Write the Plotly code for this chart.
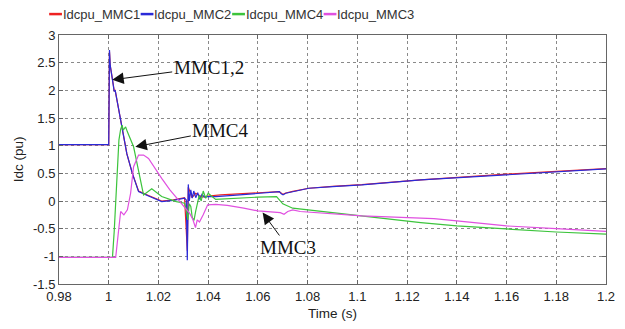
import plotly.graph_objects as go

# DC current transients of the four converter stations (per unit)
t_mmc1 = [0.98, 1.0, 1.0003, 1.0006, 1.0015, 1.0022, 1.0026, 1.0055, 1.0073, 1.0095, 1.012, 1.016,
          1.0213, 1.026, 1.0305, 1.0316, 1.032, 1.0335, 1.035, 1.0375, 1.04, 1.045, 1.05, 1.0595,
          1.0686, 1.0701, 1.0712, 1.074, 1.0805, 1.09, 1.1018, 1.1255, 1.14, 1.16, 1.18, 1.2]
i_mmc1 = [1.02, 1.02, 2.7, 2.45, 2.2, 1.99, 2.0, 1.25, 0.85, 0.5, 0.18, 0.1,
          0.0, 0.02, 0.06, -0.9, 0.25, 0.06, 0.14, 0.07, 0.09, 0.11, 0.12, 0.145,
          0.17, 0.12, 0.145, 0.175, 0.23, 0.265, 0.295, 0.38, 0.425, 0.485, 0.535, 0.585]

t_mmc2 = [0.98, 1.0, 1.0003, 1.0006, 1.0015, 1.0022, 1.0026, 1.0055, 1.0073, 1.0095, 1.012, 1.016,
          1.0213, 1.026, 1.0305, 1.0312, 1.0316, 1.032, 1.0324, 1.033, 1.0336, 1.0342, 1.035,
          1.0358, 1.0366, 1.0375, 1.0385, 1.0398, 1.043, 1.05, 1.0595, 1.0686, 1.0694, 1.0701,
          1.0712, 1.074, 1.0805, 1.09, 1.1018, 1.1255, 1.14, 1.16, 1.18, 1.2]
i_mmc2 = [1.02, 1.02, 2.73, 2.45, 2.19, 1.98, 2.0, 1.25, 0.85, 0.5, 0.17, 0.09,
          -0.01, 0.01, 0.05, 0.02, -1.07, 0.3, 0.0, 0.2, 0.05, 0.18, 0.06,
          0.15, 0.03, 0.12, 0.07, 0.08, 0.08, 0.1, 0.14, 0.168, 0.13, 0.11,
          0.14, 0.17, 0.23, 0.26, 0.29, 0.38, 0.42, 0.48, 0.53, 0.58]

t_mmc4 = [0.98, 1.0015, 1.0022, 1.0028, 1.0035, 1.0041, 1.0048, 1.0054, 1.0058, 1.0062, 1.0068,
          1.0075, 1.0085, 1.01, 1.0113, 1.0127, 1.014, 1.0173, 1.0213, 1.0272, 1.0305, 1.0312,
          1.0318, 1.0324, 1.033, 1.0336, 1.0343, 1.035, 1.0357, 1.0364, 1.0372, 1.038, 1.039,
          1.04, 1.043, 1.05, 1.06, 1.0675, 1.07, 1.074, 1.078, 1.0805, 1.09, 1.1018, 1.115,
          1.1255, 1.14, 1.16, 1.18, 1.2]
i_mmc4 = [-1.02, -1.02, -0.55, 0.0, 0.6, 1.1, 1.3, 1.37, 1.28, 1.3, 1.34,
          1.25, 1.15, 0.98, 0.7, 0.38, 0.11, 0.22, 0.08, -0.01, -0.04, -0.15,
          -0.34, -0.05, -0.1, -0.3, -0.35, -0.18, -0.05, 0.1, 0.0, 0.18, 0.05,
          0.14, 0.03, 0.05, 0.07, 0.08, -0.05, -0.13, -0.15, -0.16, -0.22, -0.28, -0.34,
          -0.39, -0.45, -0.51, -0.56, -0.6]

t_mmc3 = [0.98, 1.0028, 1.0038, 1.0048, 1.0061, 1.0068, 1.0075, 1.0088, 1.01, 1.012, 1.014,
          1.016, 1.0185, 1.0213, 1.0246, 1.0286, 1.031, 1.0325, 1.0338, 1.0349, 1.0356, 1.0365,
          1.038, 1.0398, 1.043, 1.0477, 1.0543, 1.06, 1.069, 1.0705, 1.072, 1.074, 1.077,
          1.086, 1.1018, 1.115, 1.1308, 1.14, 1.16, 1.18, 1.2]
i_mmc3 = [-1.02, -1.02, -0.6, -0.19, -0.25, -0.2, -0.16, 0.14, 0.62, 0.83, 0.83,
          0.77, 0.59, 0.41, 0.2, -0.01, -0.13, -0.22, -0.33, -0.48, -0.34, -0.38,
          -0.25, -0.07, -0.06, -0.08, -0.13, -0.18, -0.21, -0.24, -0.19, -0.16, -0.19,
          -0.22, -0.27, -0.29, -0.32, -0.36, -0.45, -0.5, -0.55]

series_names = ["Idcpu_MMC1", "Idcpu_MMC2", "Idcpu_MMC4", "Idcpu_MMC3"]
series_colors = ["#ee2222", "#2a2ad8", "#3cc43c", "#e050e0"]

x_ticks = [0.98, 1.0, 1.02, 1.04, 1.06, 1.08, 1.1, 1.12, 1.14, 1.16, 1.18, 1.2]
x_tick_text = ["0.98", "1", "1.02", "1.04", "1.06", "1.08", "1.1", "1.12", "1.14", "1.16", "1.18", "1.2"]
y_ticks = [-1.5, -1, -0.5, 0, 0.5, 1, 1.5, 2, 2.5, 3]
y_tick_text = ["-1.5", "-1", "-0.5", "0", "0.5", "1", "1.5", "2", "2.5", "3"]

# (label, arrow tip t, arrow tip value, label t, label value)
callouts = [
    ("MMC1,2", 1.0014, 2.19, 1.0402, 2.42),
    ("MMC4", 1.0107, 0.98, 1.0449, 1.28),
    ("MMC3", 1.0619, -0.21, 1.0722, -0.84),
]

fig = go.Figure()
for t, v, name, color in zip([t_mmc1, t_mmc2, t_mmc4, t_mmc3],
                             [i_mmc1, i_mmc2, i_mmc4, i_mmc3],
                             series_names, series_colors):
    fig.add_trace(go.Scatter(x=t, y=v, mode="lines", name=name,
                             line=dict(color=color, width=1.2), showlegend=False))

annotations = []
for label, tx, ty, lx, ly in callouts:
    annotations.append(dict(
        x=tx, y=ty, xref="x", yref="y", ax=lx, ay=ly, axref="x", ayref="y",
        text=label, showarrow=True, arrowhead=2, arrowsize=2.3, arrowwidth=1,
        arrowcolor="#111111", standoff=0, startstandoff=0,
        font=dict(family="Liberation Serif", size=19, color="#111111"),
    ))

# compact legend row above the plot area
shapes = []
item_w = 93 / 556
x0 = -10 / 556
leg_y = 1.084
for k, (name, color) in enumerate(zip(series_names, series_colors)):
    sx = x0 + k * item_w
    shapes.append(dict(type="line", xref="paper", yref="paper",
                       x0=sx, x1=sx + 13 / 556, y0=leg_y, y1=leg_y,
                       line=dict(color=color, width=2.5)))
    annotations.append(dict(x=sx + 13 / 556, y=leg_y, xref="paper", yref="paper",
                            text=name, showarrow=False, xanchor="left", yanchor="middle",
                            xshift=-1, font=dict(family="Liberation Sans", size=13, color="#333333")))

# y-axis title placed beside the tick labels
annotations.append(dict(x=-41 / 556, y=0.5, xref="paper", yref="paper", text="Idc (pu)",
                        textangle=-90, showarrow=False, xanchor="center", yanchor="middle",
                        font=dict(family="Liberation Sans", size=13.5, color="#222222")))

axis_common = dict(
    showline=True, linecolor="#666666", linewidth=1, mirror="ticks",
    showgrid=True, gridcolor="#8a8a8a", griddash="dot", gridwidth=1,
    ticks="inside", ticklen=4, tickcolor="#666666", zeroline=False,
    tickfont=dict(family="Liberation Sans", size=13, color="#222222"),
)

fig.update_layout(
    width=625, height=329,
    margin=dict(l=59, r=10, t=35, b=45),
    paper_bgcolor="white", plot_bgcolor="white",
    xaxis=dict(range=[0.98, 1.2], tickvals=x_ticks, ticktext=x_tick_text,
               title=dict(text="Time (s)", standoff=5,
                          font=dict(family="Liberation Sans", size=13.5, color="#222222")),
               **axis_common),
    yaxis=dict(range=[-1.5, 3], tickvals=y_ticks, ticktext=y_tick_text, **axis_common),
    annotations=annotations,
    shapes=shapes,
)

fig.write_html("out.html")
